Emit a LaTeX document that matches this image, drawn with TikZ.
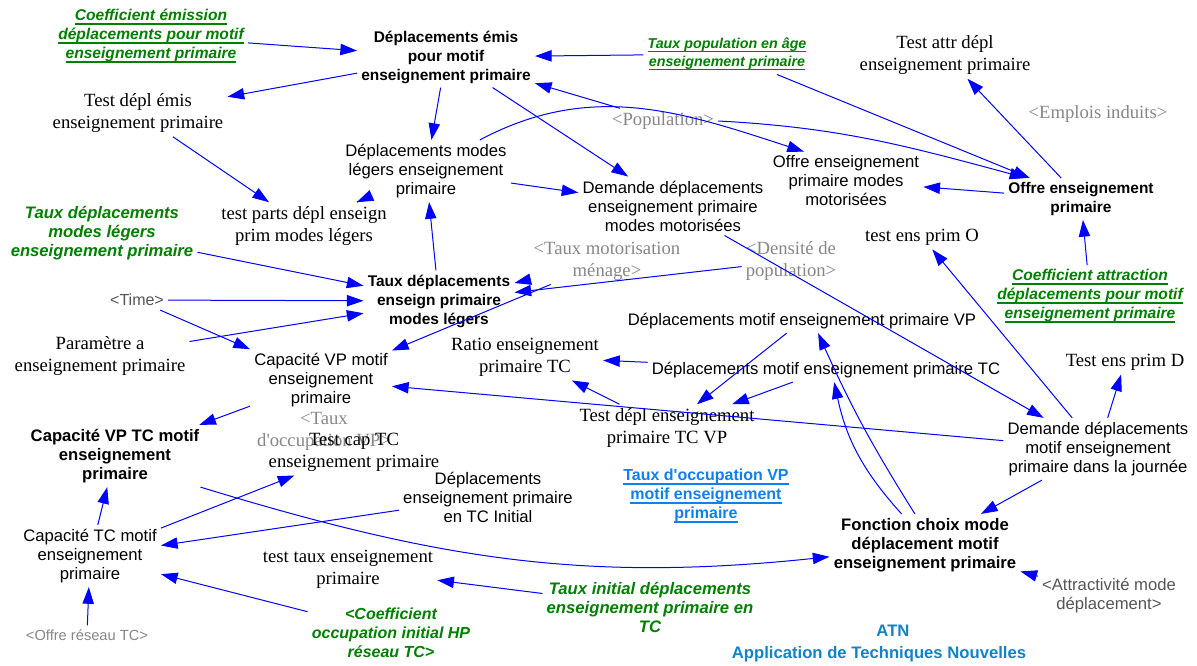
\documentclass[tikz,border=0pt]{standalone}
\usepackage{fontspec}
\usetikzlibrary{arrows.meta}
\newfontfamily\fa{Liberation Sans}
\newfontfamily\ft{Liberation Serif}
\definecolor{lnk}{RGB}{0,0,255}
\definecolor{grn}{RGB}{0,128,0}
\definecolor{gry}{RGB}{135,135,135}
\definecolor{dgry}{RGB}{85,85,85}
\definecolor{sky}{RGB}{16,128,240}
\definecolor{atncol}{RGB}{17,132,199}
% underline drawn a fixed distance below the baseline
\newsavebox\ulbox
\newcommand\ulw[1]{\leavevmode\sbox\ulbox{#1}\rlap{\rule[-2.8pt]{\wd\ulbox}{0.9pt}}\usebox\ulbox}
\tikzset{
  lbl/.style={align=center, inner sep=3pt},
  sans/.style={lbl, font=\fa\fontsize{12.5}{14.25}\selectfont},
  bsans/.style={lbl, font=\fa\bfseries\fontsize{11.6}{14.25}\selectfont},
  bsansl/.style={lbl, font=\fa\bfseries\fontsize{12.5}{14.25}\selectfont},
  serif/.style={lbl, font=\ft\fontsize{14}{16.5}\selectfont},
  ghost/.style={serif, text=gry},
  gin/.style={lbl, text=grn, font=\fa\bfseries\itshape\fontsize{12.5}{14.25}\selectfont},
  gul/.style={lbl, text=grn, font=\fa\bfseries\itshape\fontsize{11.7}{14.25}\selectfont},
  link/.style={-{Triangle[length=12.5pt,width=8.5pt]}, draw=lnk, line width=0.75pt}
}
\begin{document}
\begin{tikzpicture}[x=0.75pt, y=-0.75pt]
\useasboundingbox (0,0) rectangle (1197,665);
\fill[white] (0,0) rectangle (1197,665);

% variables
\node[gul] (coefE) at (151,36) {\ulw{Coefficient émission}\\\ulw{déplacements pour motif}\\\ulw{enseignement primaire}};
\node[bsans] (depEmis) at (446,57) {Déplacements émis\\pour motif\\enseignement primaire};
\node[gul, font=\fa\bfseries\itshape\fontsize{10.7}{13.5}\selectfont] (tauxPop) at (727,54) {\ulw{Taux population en âge}\\\ulw{enseignement primaire}};
\node[serif] (testAttr) at (945,55) {Test attr dépl\\enseignement primaire};
\node[ghost] (emplois) at (1098,114) {<Emplois induits>};
\node[serif] (testEmis) at (138,113) {Test dépl émis\\enseignement primaire};
\node[ghost] (population) at (663,121) {<Population>};
\node[sans] (depML) at (426,171) {Déplacements modes\\légers enseignement\\primaire};
\node[sans] (offreMM) at (846,181) {Offre enseignement\\primaire modes\\motorisées};
\node[bsans] (offre) at (1081,199) {Offre enseignement\\primaire};
\node[sans] (demMM) at (673,206) {Demande déplacements\\enseignement primaire\\modes motorisées};
\node[serif] (testParts) at (304,226) {test parts dépl enseign\\prim modes légers};
\node[gin] (tauxML) at (102,233) {Taux déplacements\\modes légers\\enseignement primaire};
\node[serif] (testO) at (922,237) {test ens prim O};
\node[ghost] (tauxMot) at (607,261) {<Taux motorisation\\ménage>};
\node[ghost] (densite) at (791,261) {<Densité de\\population>};
\node[gul] (coefA) at (1090,296) {\ulw{Coefficient attraction}\\\ulw{déplacements pour motif}\\\ulw{enseignement primaire}};
\node[bsans] (tauxDML) at (439,301) {Taux déplacements\\enseign primaire\\modes légers};
\node[sans, text=dgry, font=\fa\fontsize{12}{14.25}\selectfont] (time) at (137,300) {<Time>};
\node[serif] (paramA) at (100,356) {Paramètre a\\enseignement primaire};
\node[sans] (capVP) at (321,380) {Capacité VP motif\\enseignement\\primaire};
\node[sans] (depVP) at (802,321) {Déplacements motif enseignement primaire VP};
\node[serif] (ratio) at (525,357) {Ratio enseignement\\primaire TC};
\node[sans] (depTC) at (826,370) {Déplacements motif enseignement primaire TC};
\node[serif] (testD) at (1125,362) {Test ens prim D};
\node[serif] (testTCVP) at (667,428) {Test dépl enseignement\\primaire TC VP};
\node[ghost] (tauxOcc) at (324,431) {<Taux\\d'occupation VP>};
\node[serif] (testCap) at (354,452) {Test cap TC\\enseignement primaire};
\node[bsansl] (capVPTC) at (115,456) {Capacité VP TC motif\\enseignement\\primaire};
\node[sans] (demJ) at (1098,449) {Demande déplacements\\motif enseignement\\primaire dans la journée};
\node[sans] (depTCI) at (488,497) {Déplacements\\enseignement primaire\\en TC Initial};
\node[lbl, text=sky, font=\fa\bfseries\fontsize{12}{14.25}\selectfont] (tauxOccVP) at (706,496) {\ulw{Taux d'occupation VP}\\\ulw{motif enseignement}\\\ulw{primaire}};
\node[sans] (capTC) at (90,556) {Capacité TC motif\\enseignement\\primaire};
\node[bsansl] (fonction) at (925,545) {Fonction choix mode\\déplacement motif\\enseignement primaire};
\node[serif] (testTaux) at (348,569) {test taux enseignement\\primaire};
\node[gin] (tauxInit) at (650,607) {Taux initial déplacements\\enseignement primaire en\\TC};
\node[sans, text=dgry] (attract) at (1109,596) {<Attractivité mode\\déplacement>};
\node[sans, text=gry, font=\fa\fontsize{11}{14.25}\selectfont] (offreTC) at (87,635) {<Offre réseau TC>};
\node[gin, font=\fa\bfseries\itshape\fontsize{12}{14.25}\selectfont] (coefOcc) at (391,633) {<Coefficient\\occupation initial HP\\réseau TC>};
\node[lbl, text=atncol, font=\fa\bfseries\fontsize{12.5}{16.5}\selectfont] (atn) at (879,643) {\hspace*{21pt}ATN\\Application de Techniques Nouvelles};

% causal links
\draw[link] (coefE) -- (depEmis);
\draw[link] (depEmis) -- (testEmis);
\draw[link] (tauxPop) -- (depEmis);
\draw[link] (tauxPop) -- (offre);
\draw[link] (depEmis) -- (depML);
\draw[link] (depEmis) -- (demMM);
\draw[link] (population) -- (depEmis);
\draw[link] (depML.30) to[out=28,in=162] (offreMM.145);
\draw[link] (population.east) to[out=-3,in=165] (offre.159);
\draw[link] (offre) -- (offreMM);
\draw[link] (offre) -- (testAttr);
\draw[link] (coefA) -- (offre);
\draw[link] (testEmis) -- (testParts);
\draw[link] (depML) -- (testParts);
\draw[link] (depML) -- (demMM);
\draw[link] (tauxDML) -- (depML);
\draw[link] (tauxML) -- (tauxDML);
\draw[link] (time) -- (tauxDML);
\draw[link] (paramA) -- (tauxDML);
\draw[link] (time) -- (capVP);
\draw[link] (tauxMot) -- (tauxDML);
\draw[link] (densite) -- (tauxDML);
\draw[link] (tauxMot) -- (capVP);
\draw[link] (demJ) -- (capVP);
\draw[link] (capVP) -- (capVPTC);
\draw[link] (depTC) -- (ratio);
\draw[link] (testTCVP) -- (ratio);
\draw[link] (depVP) -- (testTCVP);
\draw[link] (depTC) -- (testTCVP);
\draw[link] (demMM) -- (demJ);
\draw[link] (demJ) -- (testO);
\draw[link] (demJ) -- (testD);
\draw[link] (demJ) -- (fonction);
\draw[link] (fonction.108) to[bend left=4] (depVP.-37);
\draw[link] (fonction.127) to[bend left=15] (depTC.-56);
\draw[link] (capVPTC.-20) to[out=-17,in=186] (fonction.187);
\draw[link] (depTCI) -- (capTC);
\draw[link] (capTC) -- (testCap);
\draw[link] (capTC) -- (capVPTC);
\draw[link] (offreTC) -- (capTC);
\draw[link] (coefOcc) -- (capTC);
\draw[link] (tauxInit) -- (testTaux);
\draw[link] (attract) -- (fonction);
\end{tikzpicture}
\end{document}
